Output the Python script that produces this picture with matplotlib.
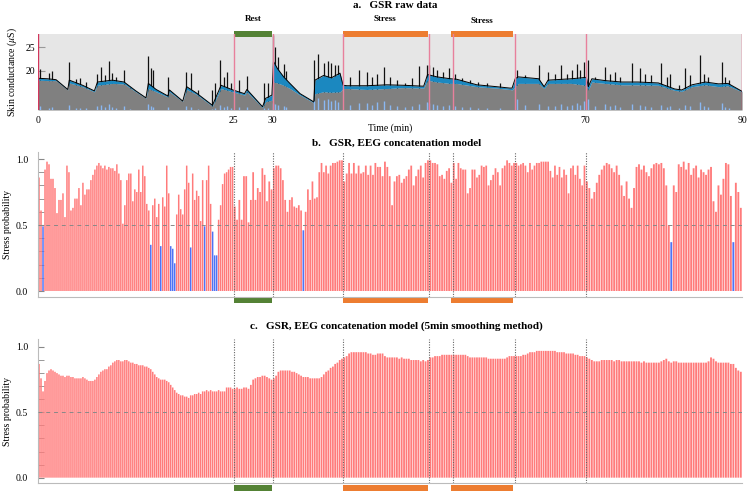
import numpy as np
import matplotlib.pyplot as plt
from matplotlib.patches import Rectangle
import matplotlib.transforms as mtransforms

plt.rcParams['font.family'] = ['Liberation Serif', 'DejaVu Serif']
plt.rcParams['mathtext.fontset'] = 'stix'

# phase boundaries (min)
phase_edges = [0, 25, 30, 39, 50, 53, 61, 70, 90]
rest_span = (25.1, 29.9)
stress_spans = [(39.0, 49.8), (52.8, 60.7)]

# ---- a. GSR raw data ----
gsr_t = [0.0, 1.2, 2.3, 3.8, 4.0, 5.7, 7.2, 7.6, 9.5, 11.0, 12.5, 13.8, 14.1, 15.1, 16.6,
         16.8, 18.5, 19.0, 20.2, 22.3, 23.4, 24.9, 26.4, 26.7, 28.7, 29.1, 29.9, 30.1, 30.6,
         31.4, 32.2, 33.5, 35.0, 35.25, 35.4, 36.5, 37.5, 38.6, 39.0, 39.5, 42.0, 44.6, 46.7,
         49.3, 49.8, 51.0, 52.7, 53.5, 56.1, 58.6, 60.3, 60.6, 61.0, 61.4, 64.0, 64.7, 65.2,
         68.2, 70.1, 70.35, 70.8, 72.5, 74.6, 76.7, 79.3, 81.4, 82.3, 83.6, 85.3, 87.0, 88.2, 90.0]
gsr_base = [18.0, 17.9, 17.9, 15.9, 17.4, 16.6, 15.5, 16.9, 17.3, 17.2, 15.5, 14.1, 16.2, 15.5, 14.4,
            15.5, 13.4, 16.0, 15.0, 12.4, 16.2, 15.5, 14.8, 15.5, 12.1, 13.4, 13.7, 17.6, 17.4,
            16.9, 16.2, 14.8, 13.4, 13.1, 15.1, 15.5, 15.4, 15.5, 16.2, 16.2, 16.0, 16.2, 16.4,
            16.3, 18.0, 17.6, 17.3, 17.3, 16.6, 16.3, 16.0, 15.9, 16.6, 17.3, 17.3, 16.2, 17.3,
            17.3, 16.9, 15.9, 17.6, 17.3, 17.0, 17.0, 16.9, 15.8, 15.6, 16.6, 17.0, 16.6, 16.8, 15.5]
gsr_raw = [18.4, 18.3, 18.1, 16.0, 18.0, 16.9, 15.7, 17.6, 18.0, 17.6, 15.7, 14.2, 17.3, 16.0, 14.6,
           15.9, 13.5, 16.6, 15.3, 12.6, 16.9, 15.9, 15.1, 16.0, 12.3, 14.1, 14.8, 22.0, 20.5,
           18.7, 17.3, 15.1, 13.6, 13.3, 18.0, 19.0, 18.5, 19.5, 16.9, 16.8, 16.8, 17.0, 16.9,
           16.7, 19.2, 18.7, 18.3, 18.2, 17.0, 16.6, 16.3, 16.3, 18.3, 18.7, 18.3, 16.6, 18.0,
           18.3, 18.6, 16.6, 18.3, 17.9, 17.6, 17.6, 17.4, 16.1, 15.9, 17.0, 17.6, 17.2, 17.3, 15.6]

spk_t = [0.26, 1.45, 1.8, 4.0, 4.86, 5.4, 6.1, 7.6, 8.05, 8.5, 9.1, 9.5, 9.97, 10.95, 11.7,
         14.0, 14.45, 14.65, 16.65, 18.9, 19.55, 20.4, 22.3, 22.6, 23.3, 23.8, 24.2, 24.7,
         25.7, 26.7, 28.9, 29.4,
         30.0, 30.3, 30.7, 31.4, 31.7, 35.3, 35.8, 36.5, 37.1, 37.5, 38.0, 38.4, 39.9, 41.0,
         42.0, 42.7, 43.3, 44.2, 45.0, 45.9, 46.9, 47.8, 48.7, 49.7, 50.0, 50.5, 51.0, 51.8,
         52.5, 53.3, 54.2, 55.2, 56.3, 57.4, 59.1,
         61.2, 62.3, 64.0, 65.2, 66.1, 66.9, 67.6, 68.2, 68.9, 69.3, 69.8, 70.3, 71.2, 72.5,
         73.1, 73.8, 74.4, 75.9, 77.0, 77.6, 78.4, 79.7, 80.4, 80.8, 81.9, 82.7, 83.4, 84.6,
         85.1, 85.7, 87.5, 87.8, 88.3]
spk_peak = [20.3, 19.6, 20.0, 21.8, 18.2, 18.4, 17.6, 19.4, 20.9, 19.1, 22.1, 19.6, 18.7, 20.2, 16.6,
            23.2, 20.5, 20.2, 18.7, 19.8, 19.6, 15.9, 15.9, 17.3, 22.4, 18.7, 19.8, 17.3,
            18.0, 18.9, 17.3, 17.3,
            27.6, 25.0, 23.0, 21.5, 20.0, 22.3, 23.6, 21.6, 22.0, 21.6, 21.2, 21.2, 18.7, 20.2,
            19.8, 18.7, 19.4, 20.9, 18.7, 18.0, 17.3, 18.4, 21.0, 21.2, 21.2, 20.9, 20.2, 19.8,
            20.5, 19.4, 18.4, 18.0, 17.6, 17.3, 17.3,
            20.2, 19.1, 21.2, 19.8, 19.4, 21.2, 19.4, 20.2, 21.4, 20.2, 21.9, 22.3, 18.7, 20.9,
            19.4, 19.8, 18.7, 21.6, 20.5, 19.4, 19.1, 21.6, 18.7, 19.4, 17.0, 20.5, 19.1, 23.4,
            19.4, 18.7, 21.9, 18.7, 18.0]
drv_h = [0.8, 0.5, 0.6, 1.0, 0.4, 0.5, 0.4, 0.8, 1.0, 0.6, 1.2, 0.6, 0.5, 0.9, 0.3,
         1.2, 0.8, 0.7, 0.6, 0.8, 0.7, 0.3, 0.3, 0.5, 1.1, 0.6, 0.8, 0.5,
         0.6, 0.7, 0.5, 0.5,
         1.5, 1.2, 1.0, 0.8, 0.6, 2.0, 2.5, 2.2, 2.4, 2.0, 2.2, 1.8, 1.0, 1.4,
         1.6, 1.0, 1.8, 2.0, 1.0, 0.8, 0.6, 0.8, 1.2, 1.8, 1.5, 1.2, 1.0, 0.9,
         1.0, 0.8, 0.6, 0.6, 0.5, 0.5, 0.5,
         2.3, 1.0, 1.2, 0.9, 0.8, 1.2, 0.8, 1.0, 1.4, 1.0, 2.0, 2.4, 0.8, 1.2,
         0.9, 1.0, 0.7, 1.2, 1.0, 0.8, 0.7, 1.1, 0.7, 0.8, 0.4, 1.0, 0.8, 1.8,
         0.8, 0.6, 1.4, 0.7, 0.5]

# ---- b. stress probability, one list per phase ----
b_phases = [
    [0.86, 0.61, 0.49, 0.92, 0.98, 0.96, 0.85, 0.85, 0.78, 0.59,
     0.69, 0.69, 0.74, 0.56, 0.95, 0.90, 0.61, 0.63, 0.70, 0.70,
     0.78, 0.65, 0.82, 0.73, 0.77, 0.77, 0.84, 0.88, 0.92, 0.95,
     0.97, 0.95, 0.93, 0.95, 0.92, 0.94, 0.93, 0.93, 0.91, 0.96,
     0.89, 0.84, 0.51, 0.65, 0.84, 0.89, 0.89, 0.68, 0.77, 0.75,
     0.92, 0.75, 0.95, 0.87, 0.66, 0.61, 0.35, 0.65, 0.70, 0.56,
     0.66, 0.34, 0.71, 0.64, 0.95, 0.74, 0.34, 0.32, 0.21, 0.58,
     0.73, 0.62, 0.58, 0.77, 0.95, 0.82, 0.33, 0.89, 0.69, 0.76,
     0.72, 0.53, 0.84, 0.49, 0.84, 0.95, 0.66, 0.45, 0.27, 0.27,
     0.54, 0.65, 0.81, 0.89, 0.90, 0.92, 0.94, 0.94],
    [0.64, 0.54, 0.69, 0.54, 0.87, 0.87, 0.52, 0.69, 0.90, 0.69, 0.78, 0.75, 0.93, 0.88, 0.68,
     0.83, 0.77],
    [0.93, 0.95, 0.95, 0.93, 0.84, 0.69, 0.60, 0.69, 0.71, 0.64, 0.63, 0.65, 0.61, 0.46, 0.60,
     0.77, 0.69, 0.83, 0.70, 0.71, 0.90, 0.97, 0.90, 0.95, 0.89, 0.95, 0.97, 0.97, 0.98, 0.99,
     0.99],
    [0.83, 0.89, 0.97, 0.89, 0.97, 0.89, 0.95, 0.89, 0.90, 0.95, 0.88, 0.95, 0.88, 0.97, 0.94,
     0.94, 0.87, 0.98, 0.94, 0.87, 0.65, 0.83, 0.87, 0.88, 0.82, 0.85, 0.87, 0.92, 0.95, 0.80,
     0.87, 0.92, 0.95, 0.86, 0.97, 0.99],
    [0.99, 0.97, 0.97, 0.96, 0.87, 0.88, 0.85, 0.91, 0.93, 0.82],
    [0.97, 0.85, 0.97, 0.93, 0.92, 0.92, 0.74, 0.78, 0.92, 0.92, 0.86, 0.88, 0.95, 0.94, 0.95,
     0.80, 0.84, 0.88, 0.93, 0.90, 0.80, 0.93, 0.95, 0.99, 0.97, 0.95, 0.97],
    [0.97, 0.95, 0.96, 0.97, 0.95, 0.90, 0.97, 0.92, 0.95, 0.97, 0.97, 0.98, 0.98, 0.98, 0.98,
     0.91, 0.86, 0.95, 0.88, 0.94, 0.86, 0.92, 0.88, 0.74, 0.93, 0.95, 0.88, 0.95, 0.85, 0.80,
     0.95],
    [0.83, 0.78, 0.70, 0.75, 0.82, 0.88, 0.92, 0.95, 0.97, 0.96, 0.93, 0.90, 0.95, 0.88, 0.80,
     0.72, 0.83, 0.70, 0.63, 0.78, 0.94, 0.96, 0.92, 0.95, 0.90, 0.87, 0.93, 0.96, 0.97, 0.96,
     0.97, 0.93, 0.80, 0.50, 0.37, 0.80, 0.75, 0.96, 0.94, 0.98, 0.92, 0.97, 0.88, 0.93, 0.95,
     0.86, 0.92, 0.90, 0.88, 0.92, 0.94, 0.68, 0.60, 0.80, 0.73, 0.85, 0.97, 0.96, 0.72, 0.37,
     0.82, 0.75, 0.63],
]

# ---- c. 5 min smoothed ----
c_phases = [
    [0.87, 0.76, 0.66, 0.74, 0.80, 0.82, 0.83, 0.82, 0.81, 0.80,
     0.79, 0.78, 0.78, 0.77, 0.78, 0.78, 0.77, 0.77, 0.76, 0.76,
     0.76, 0.76, 0.77, 0.76, 0.75, 0.74, 0.74, 0.74, 0.75, 0.77,
     0.79, 0.81, 0.82, 0.83, 0.83, 0.85, 0.86, 0.88, 0.89, 0.90,
     0.90, 0.89, 0.89, 0.90, 0.90, 0.89, 0.88, 0.88, 0.87, 0.87,
     0.86, 0.86, 0.86, 0.85, 0.85, 0.84, 0.83, 0.81, 0.79, 0.77,
     0.76, 0.75, 0.75, 0.75, 0.74, 0.73, 0.71, 0.69, 0.67, 0.65,
     0.64, 0.63, 0.63, 0.62, 0.62, 0.61, 0.63, 0.63, 0.64, 0.64,
     0.65, 0.64, 0.66, 0.66, 0.67, 0.66, 0.67, 0.66, 0.66, 0.66,
     0.67, 0.66, 0.66, 0.66, 0.69, 0.69, 0.69, 0.68],
    [0.68, 0.69, 0.68, 0.68, 0.69, 0.69, 0.68, 0.71, 0.75, 0.76, 0.77, 0.77, 0.78, 0.78, 0.77,
     0.76, 0.75],
    [0.76, 0.78, 0.81, 0.82, 0.82, 0.82, 0.82, 0.82, 0.81, 0.81, 0.80, 0.79, 0.78, 0.77, 0.77,
     0.77, 0.76, 0.76, 0.76, 0.76, 0.76, 0.77, 0.79, 0.81, 0.82, 0.84, 0.85, 0.87, 0.88, 0.90,
     0.91],
    [0.92, 0.93, 0.95, 0.96, 0.96, 0.96, 0.96, 0.96, 0.96, 0.96, 0.95, 0.95, 0.94, 0.94, 0.95,
     0.95, 0.95, 0.93, 0.92, 0.92, 0.92, 0.92, 0.92, 0.91, 0.92, 0.91, 0.91, 0.91, 0.90, 0.90,
     0.90, 0.90, 0.89, 0.90, 0.89, 0.90],
    [0.92, 0.92, 0.93, 0.93, 0.93, 0.94, 0.94, 0.94, 0.94, 0.94],
    [0.94, 0.94, 0.94, 0.94, 0.94, 0.94, 0.93, 0.92, 0.92, 0.92, 0.92, 0.92, 0.92, 0.92, 0.92,
     0.91, 0.91, 0.91, 0.91, 0.91, 0.91, 0.91, 0.91, 0.92, 0.93, 0.93, 0.93],
    [0.93, 0.93, 0.93, 0.94, 0.94, 0.95, 0.96, 0.96, 0.96, 0.97, 0.97, 0.97, 0.97, 0.97, 0.97,
     0.97, 0.97, 0.97, 0.96, 0.96, 0.96, 0.96, 0.95, 0.95, 0.95, 0.95, 0.94, 0.94, 0.93, 0.93,
     0.93],
    [0.92, 0.91, 0.90, 0.89, 0.89, 0.89, 0.90, 0.90, 0.90, 0.90,
     0.90, 0.89, 0.90, 0.90, 0.89, 0.89, 0.89, 0.89, 0.89, 0.89,
     0.89, 0.89, 0.88, 0.89, 0.88, 0.88, 0.88, 0.88, 0.88, 0.88,
     0.89, 0.90, 0.91, 0.89, 0.88, 0.89, 0.89, 0.88, 0.88, 0.88,
     0.88, 0.88, 0.88, 0.88, 0.88, 0.88, 0.88, 0.88, 0.88, 0.89,
     0.92, 0.91, 0.89, 0.88, 0.88, 0.88, 0.88, 0.88, 0.87, 0.87,
     0.84, 0.82, 0.81],
]

RED = '#ff7b7b'
BLUE = '#4f72f5'
GREEN = '#548235'
ORANGE = '#ed7d31'


def phase_bars(ax, y0, y1):
    tr = mtransforms.blended_transform_factory(ax.transData, ax.transAxes)
    ax.add_patch(Rectangle((rest_span[0], y0), rest_span[1] - rest_span[0], y1 - y0,
                           transform=tr, color=GREEN, clip_on=False, lw=0))
    for s, e in stress_spans:
        ax.add_patch(Rectangle((s, y0), e - s, y1 - y0, transform=tr, color=ORANGE,
                               clip_on=False, lw=0))


def prob_panel(ax, phases, ylim):
    for k, vals in enumerate(phases):
        s, e = phase_edges[k], phase_edges[k + 1]
        dt = (e - s) / len(vals)
        x = s + (np.arange(len(vals)) + 0.5) * dt
        cols = [BLUE if v < 0.5 else RED for v in vals]
        bars = ax.bar(x, vals, width=dt * 0.75, color=cols, lw=0, zorder=2)
        for b in bars:
            b.set_snap(False)
    for xe in phase_edges[1:-1]:
        ax.axvline(xe, color='#666666', ls=(0, (1, 1.3)), lw=0.8, zorder=3)
    ax.axhline(0.5, color='#888888', ls=(0, (4, 4)), lw=0.7, zorder=3)
    ax.set_xlim(0, 90)
    ax.set_ylim(*ylim)
    for sp in ['top', 'right']:
        ax.spines[sp].set_visible(False)
    for sp in ['left', 'bottom']:
        ax.spines[sp].set_color('#bbbbbb')
        ax.spines[sp].set_linewidth(0.8)
    ax.set_xticks([])
    ax.set_yticks([0, 0.5, 1.0])
    ax.set_yticklabels(['0.0', '0.5', '1.0'])
    ax.set_yticks(np.arange(0, 1.01, 0.1), minor=True)
    ax.tick_params(axis='y', which='both', direction='in', color='#888888', labelsize=7, pad=7)
    ax.tick_params(axis='y', which='major', length=4)
    ax.tick_params(axis='y', which='minor', length=4)
    ax.set_ylabel('Stress probability', fontsize=7, labelpad=3)


fig = plt.figure(figsize=(7.5, 4.91), dpi=100)
ax_a = fig.add_axes([0.0507, 0.776, 0.9387, 0.1548])
ax_b = fig.add_axes([0.0507, 0.3951, 0.9387, 0.2953])
ax_c = fig.add_axes([0.0507, 0.0157, 0.9387, 0.2939])

# panel a
ylo = 11.6
ax_a.set_facecolor('#e6e6e6')
ax_a.vlines(spk_t, ylo, spk_peak, color='#111111', lw=0.9, zorder=2)
ax_a.fill_between(gsr_t, ylo, gsr_base, color='#808080', lw=0, zorder=3)
ax_a.fill_between(gsr_t, gsr_base, gsr_raw, color='#1b88c0', lw=0, zorder=3)
ax_a.plot(gsr_t, gsr_raw, color='black', lw=0.7, zorder=4)
ax_a.vlines(spk_t, ylo, ylo + np.array(drv_h), color='#8ab8f2', lw=1.0, zorder=4)
for xe in phase_edges:
    c = '#d2365c' if xe in (0, 90) else '#e8809c'
    ax_a.axvline(xe, color=c, lw=1.0, zorder=5)
ax_a.set_xlim(0, 90)
ax_a.set_ylim(ylo, 27.9)
for sp in ax_a.spines.values():
    sp.set_visible(False)
ax_a.set_xticks([0, 25, 30, 70, 90])
ax_a.tick_params(axis='x', length=0, labelsize=7, pad=4)
ax_a.set_yticks([20, 25])
ax_a.tick_params(axis='y', direction='in', length=5, color='#999999', labelsize=7, pad=2)
ax_a.set_xlabel('Time (min)', fontsize=7, labelpad=-1)
ax_a.set_ylabel('Skin conductance ($\\mu$S)', fontsize=7, labelpad=5)
phase_bars(ax_a, 0.965, 1.045)
tra = mtransforms.blended_transform_factory(ax_a.transData, ax_a.transAxes)
ax_a.text(27.5, 1.2, 'Rest', transform=tra, ha='center', va='center', fontsize=6.5,
          fontweight='bold')
ax_a.text(44.4, 1.2, 'Stress', transform=tra, ha='center', va='center', fontsize=6.5,
          fontweight='bold')
ax_a.text(56.8, 1.17, 'Stress', transform=tra, ha='center', va='center', fontsize=6.5,
          fontweight='bold')

# panels b, c
prob_panel(ax_b, b_phases, (-0.0455, 1.053))
phase_bars(ax_b, -0.043, -0.005)
prob_panel(ax_c, c_phases, (-0.043, 1.061))
phase_bars(ax_c, -0.06, -0.012)

fig.text(0.527, 0.988, 'a.   GSR raw data', ha='center', va='center', fontsize=8,
         fontweight='bold')
fig.text(0.529, 0.709, 'b.   GSR, EEG concatenation model', ha='center', va='center',
         fontsize=8, fontweight='bold')
fig.text(0.529, 0.335, 'c.   GSR, EEG concatenation model (5min smoothing method)',
         ha='center', va='center', fontsize=8, fontweight='bold')

fig.savefig('out.png', dpi=100)
